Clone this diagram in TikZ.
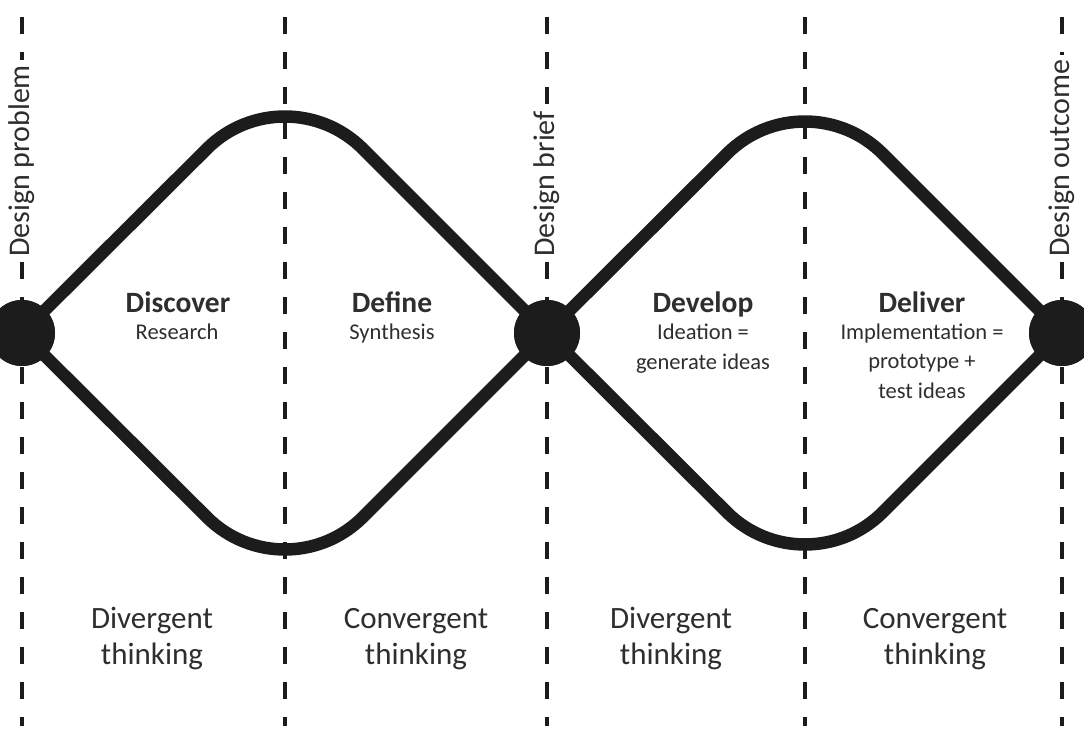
\documentclass[tikz,border=0pt]{standalone}
\usepackage{fontspec}
\setmainfont{Carlito}
\definecolor{ink}{HTML}{1C1C1C}
\definecolor{txt}{HTML}{2E2E2E}
\begin{document}
\begin{tikzpicture}[x=1pt,y=-1pt,
  guide/.style={draw=ink,line width=4pt,dash pattern=on 17pt off 18pt},
  wave/.style={draw=ink,line width=12.5pt,rounded corners=110pt},
  hub/.style={circle,fill=ink,minimum size=66pt,inner sep=0pt},
  milestone/.style={rotate=90,anchor=west,fill=white,inner sep=5pt,text=txt,font=\fontsize{30}{34}\selectfont},
  title/.style={anchor=base,text=txt,font=\fontsize{29.5}{32}\selectfont\bfseries},
  phase/.style={anchor=base,align=center,text=txt,font=\fontsize{22.5}{29.5}\selectfont},
  mode/.style={anchor=base,align=center,text=txt,font=\fontsize{31}{35.5}\selectfont}]
\useasboundingbox (0,0) rectangle (1084,746);
% guide coordinates
\coordinate (t1) at (22,17);   \coordinate (b1) at (22,726);
\coordinate (t2) at (285,17);  \coordinate (b2) at (285,726);
\coordinate (t3) at (547,17);  \coordinate (b3) at (547,726);
\coordinate (t4) at (805,17);  \coordinate (b4) at (805,726);
\coordinate (t5) at (1062,17); \coordinate (b5) at (1062,726);
\foreach \i in {1,...,5} \draw[guide] (t\i) -- (b\i);
% hubs
\node[hub] (n1) at (22,333) {};
\node[hub] (n2) at (547,333) {};
\node[hub] (n3) at (1062,333) {};
\coordinate (up1) at (285,71);
\coordinate (dn1) at (285,595);
\coordinate (up2) at (805,76);
\coordinate (dn2) at (805,590);
\draw[wave] (n1.center) -- (up1) -- (n2.center);
\draw[wave] (n1.center) -- (dn1) -- (n2.center);
\draw[wave] (n2.center) -- (up2) -- (n3.center);
\draw[wave] (n2.center) -- (dn2) -- (n3.center);
\node[hub] at (n1) {};
\node[hub] at (n2) {};
\node[hub] at (n3) {};
% milestone labels
\node[milestone] (m1) at (22,262) {Design problem};
\node[milestone] (m2) at (547,262) {Design brief};
\node[milestone] (m3) at (1062,262) {Design outcome};
% phase titles
\node[title] (h1) at (178,312) {Discover};
\node[title] (h2) at (392,312) {Define};
\node[title] (h3) at (703,312) {Develop};
\node[title] (h4) at (922,312) {Deliver};
% phase descriptions (anchored at baseline of last line)
\node[phase] (p1) at (177,339) {Research};
\node[phase] (p2) at (392,339) {Synthesis};
\node[phase] (p3) at (703,369) {Ideation =\\ generate ideas};
\node[phase] (p4) at (922,398) {Implementation =\\ prototype +\\ test ideas};
% thinking modes (anchored at baseline of last line)
\node[mode] (d1) at (152,664) {Divergent\\ thinking};
\node[mode] (c1) at (416,664) {Convergent\\ thinking};
\node[mode] (d2) at (671,664) {Divergent\\ thinking};
\node[mode] (c2) at (935,664) {Convergent\\ thinking};
\end{tikzpicture}
\end{document}
